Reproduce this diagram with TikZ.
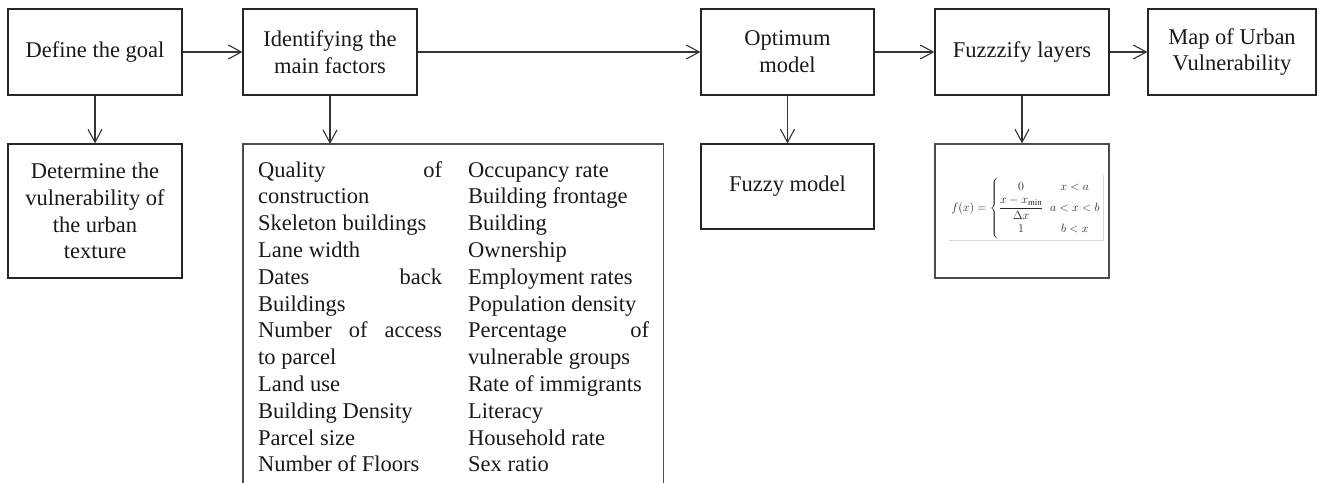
\documentclass[tikz,border=0pt]{standalone}
\usepackage{fontspec}
\setmainfont{Liberation Serif}
\usetikzlibrary{arrows.meta}
\begin{document}
\begin{tikzpicture}[x=1pt,y=-1pt,
  txt/.style={font=\fontsize{22.5}{26.8}\selectfont, text=black!90},
  box/.style={txt, draw=black!85, line width=1.2pt, minimum width=174pt, minimum height=86pt, inner sep=0pt, align=center},
  boxline/.style={draw=black!70, line width=1.2pt},
  conn/.style={draw=black!80, line width=1.2pt, -{Straight Barb[length=13pt,width=14pt,line width=1.1pt]}},
  col/.style={txt, inner sep=0pt, anchor=north west}
  ]
\useasboundingbox (0,0) rectangle (1317,482);
% top row
\node[box] (goal) at (95,52) {Define the goal};
\node[box] (ident) at (330,52) {Identifying the\\main factors};
\node[box, minimum width=173pt] (optimum) at (787.5,52) {Optimum\\model};
\node[box] (fuzzify) at (1022,52) {Fuzzzify layers};
\node[box, minimum width=168pt] (map) at (1232,52) {Map of Urban\\Vulnerability};
% second row
\node[box, minimum height=134pt] (determine) at (95,211) {Determine the\\vulnerability of\\the urban\\texture};
\node[box, minimum width=173pt, minimum height=85pt] (fuzzymodel) at (787.5,186.5) {Fuzzy model};
\node[box, draw=black!70, minimum height=134pt] (formulabox) at (1022,211) {};
\node[inner sep=2pt, text=black!85, font=\fontsize{12.5}{15}\selectfont] (formula) at (1026,208)
  {\def\arraystretch{1.25}$f(x)=\left\{\begin{array}{@{}c@{\;\;}c@{}}0 & x<a\\ {\displaystyle\frac{x-x_{\min}}{\Delta x}} & a<x<b\\ 1 & b<x\end{array}\right.$};
\draw[draw=black!15, line width=0.8pt] (formula.south west) -- (formula.south east) -- (formula.north east);
% factors box
\node[minimum width=420pt, minimum height=345pt, inner sep=0pt, anchor=north west] (factorsbox) at (243,144) {};
\draw[boxline] (factorsbox.south west) -- (factorsbox.north west) -- (factorsbox.north east) -- (factorsbox.south east);
\node[col] (factorsL) at (258,158.2) {\begin{minipage}[t]{184pt}\raggedright
\strut\makebox[\linewidth][s]{Quality of}\par
construction\par
Skeleton buildings\par
Lane width\par
\makebox[\linewidth][s]{Dates back}\par
Buildings\par
\makebox[\linewidth][s]{Number of access}\par
to parcel\par
Land use\par
Building Density\par
Parcel size\par
Number of Floors\end{minipage}};
\node[col] (factorsR) at (468,158.2) {\begin{minipage}[t]{181pt}\raggedright
\strut Occupancy rate\par
Building frontage\par
Building\par
Ownership\par
Employment rates\par
Population density\par
\makebox[\linewidth][s]{Percentage of}\par
vulnerable groups\par
Rate of immigrants\par
Literacy\par
Household rate\par
Sex ratio\end{minipage}};
% connectors
\draw[conn] (goal) -- (ident);
\draw[conn] (ident) -- (optimum);
\draw[conn] (optimum) -- (fuzzify);
\draw[conn] (fuzzify) -- (map);
\draw[conn] (goal) -- (determine);
\draw[conn] (ident.south) -- (ident.south |- factorsbox.north);
\draw[conn] (optimum) -- (fuzzymodel);
\draw[conn] (fuzzify) -- (formulabox);
\end{tikzpicture}
\end{document}
